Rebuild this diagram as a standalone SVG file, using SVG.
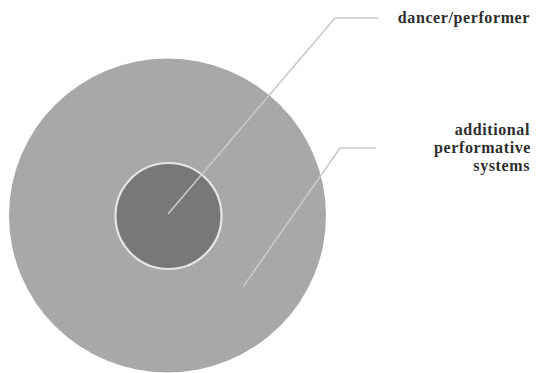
<svg xmlns="http://www.w3.org/2000/svg" width="536" height="373" viewBox="0 0 536 373">
<style>
.lbl{font-family:"Liberation Serif","Times New Roman",serif;font-weight:bold;font-size:16px;letter-spacing:0.6px;fill:#2e2e2e;text-anchor:end}
.con{fill:none;stroke:#c9c9c9;stroke-width:1.6}
</style>
<rect width="536" height="373" fill="#ffffff"/>
<g id="outer">
<ellipse cx="167.5" cy="215.5" rx="158.5" ry="157" fill="#a8a8aa"/>
</g>
<g id="inner">
<circle cx="168.5" cy="216" r="53" fill="#78787b" stroke="#e6e6e6" stroke-width="2.2"/>
</g>
<g id="connectors">
<polyline class="con" points="168,214 335,18 378,18"/>
<polyline class="con" points="243,287 340,148 376,148"/>
</g>
<g id="label-dancer">
<text class="lbl" x="530" y="23">dancer/performer</text>
</g>
<g id="label-systems">
<text class="lbl" x="530" y="135">additional</text>
<text class="lbl" x="531" y="153">performative</text>
<text class="lbl" x="530" y="171">systems</text>
</g>
</svg>
